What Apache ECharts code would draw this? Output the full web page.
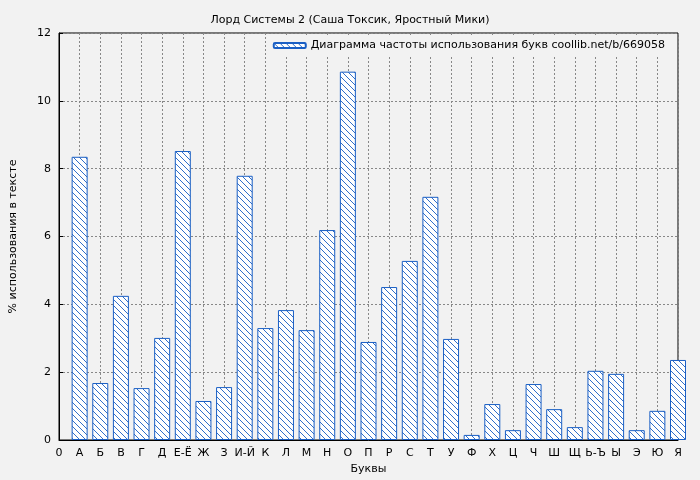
<!DOCTYPE html>
<html><head><meta charset="utf-8">
<script src="https://cdn.jsdelivr.net/npm/echarts@6/dist/echarts.min.js"></script>
<style>html,body{margin:0;background:#f2f2f2}#c{width:700px;height:480px}</style>
</head><body><div id="c"></div>
<script>
var letters = ['0','А','Б','В','Г','Д','Е-Ё','Ж','З','И-Й','К','Л','М','Н','О','П','Р','С','Т','У','Ф','Х','Ц','Ч','Ш','Щ','Ь-Ъ','Ы','Э','Ю','Я'];
var freq = ['-',8.35,1.68,4.25,1.53,3.01,8.52,1.15,1.56,7.79,3.30,3.83,3.24,6.19,10.86,2.89,4.51,5.28,7.17,2.98,0.15,1.06,0.29,1.65,0.91,0.38,2.04,1.95,0.29,0.86,2.36];
var yTicks = [0, 2, 4, 6, 8, 10, 12];

var blue = '#1a5fc4';
var cv = document.createElement('canvas');
cv.width = 6; cv.height = 6;
var g = cv.getContext('2d');
g.fillStyle = '#ffffff'; g.fillRect(0, 0, 6, 6);
g.strokeStyle = blue; g.lineWidth = 0.9;
g.beginPath();
g.moveTo(0, 0); g.lineTo(6, 6);
g.moveTo(-3, 3); g.lineTo(3, 9);
g.moveTo(3, -3); g.lineTo(9, 3);
g.stroke();

var chart = echarts.init(document.getElementById('c'), null, { renderer: 'canvas' });
chart.setOption({
  animation: false,
  backgroundColor: '#f2f2f2',
  title: { text: 'Лорд Системы 2 (Саша Токсик, Яростный Мики)', left: 'center', top: 10,
    textStyle: { fontSize: 11, fontWeight: 'normal', color: '#000', fontFamily: 'DejaVu Sans' } },
  legend: {
    top: 35, right: 30, itemWidth: 32, itemHeight: 5, itemGap: 6,
    backgroundColor: '#f2f2f2',
    textStyle: { fontSize: 11, color: '#000', fontFamily: 'DejaVu Sans' },
    data: ['Диаграмма частоты использования букв coollib.net/b/669058']
  },
  grid: { left: 53, right: 22, top: 33, bottom: 40, show: true, borderColor: '#000', borderWidth: 1, backgroundColor: '#f2f2f2' },
  xAxis: {
    type: 'category', data: letters, boundaryGap: false,
    name: 'Буквы', nameLocation: 'middle', nameGap: 24,
    nameTextStyle: { fontSize: 11, color: '#000', fontFamily: 'DejaVu Sans' },
    axisLine: { lineStyle: { color: '#000' } },
    axisTick: { inside: true, length: 4, lineStyle: { color: '#000' } },
    axisLabel: { interval: 0, fontSize: 11, color: '#000', fontFamily: 'DejaVu Sans' },
    splitLine: { show: true, interval: 0, lineStyle: { color: '#888', type: [2, 2] } }
  },
  yAxis: {
    type: 'value', min: yTicks[0], max: yTicks[yTicks.length - 1], interval: 2,
    name: '% использования в тексте', nameLocation: 'middle', nameGap: 40,
    nameTextStyle: { fontSize: 11, color: '#000', fontFamily: 'DejaVu Sans' },
    axisLine: { show: true, lineStyle: { color: '#000' } },
    axisTick: { show: true, inside: true, length: 4, lineStyle: { color: '#000' } },
    axisLabel: { fontSize: 11, color: '#000', fontFamily: 'DejaVu Sans' },
    splitLine: { show: true, lineStyle: { color: '#888', type: [2, 2] } }
  },
  series: [{
    name: 'Диаграмма частоты использования букв coollib.net/b/669058',
    type: 'bar', data: freq, barWidth: 16, clip: true,
    itemStyle: { color: { image: cv, repeat: 'repeat' }, borderColor: blue, borderWidth: 1 }
  }]
});
</script></body></html>
